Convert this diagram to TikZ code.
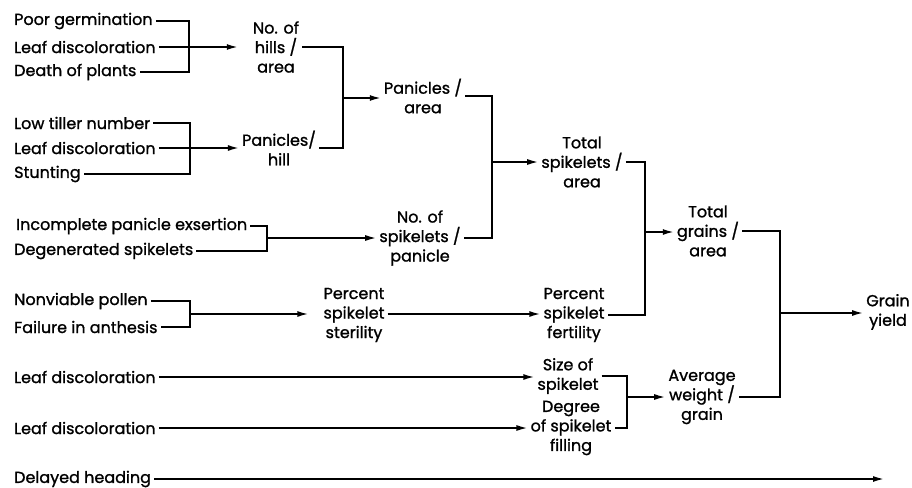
\documentclass[tikz,border=0pt]{standalone}
\usepackage{fontspec}
\setmainfont{Poppins}
\newfontfamily\labfont{Poppins}[FakeBold=1.2]
\usetikzlibrary{arrows.meta}
\begin{document}
\begin{tikzpicture}[x=1pt,y=-1pt,
  txt/.style={font=\labfont\fontsize{16}{19.5}\selectfont, inner xsep=3pt, inner ysep=1pt},
  cause/.style={txt, anchor=west},
  lab/.style={txt, align=center},
  conn/.style={line width=1.6pt},
  arr/.style={conn,-{Latex[length=11pt,width=6pt]}}]
\useasboundingbox[fill=white] (0,0) rectangle (912,487);
% causes
\node[cause] (pg) at (11,21) {Poor germination};
\node[cause] (ld1) at (11,47) {Leaf discoloration};
\node[cause] (dp) at (11,72) {Death of plants};
\node[cause] (lt) at (11,123) {Low tiller number};
\node[cause] (ld2) at (11,148) {Leaf discoloration};
\node[cause] (st) at (11,174) {Stunting};
\node[cause] (ip) at (13,226) {Incomplete panicle exsertion};
\node[cause] (ds) at (11,251) {Degenerated spikelets};
\node[cause] (np) at (11,301) {Nonviable pollen};
\node[cause] (fa) at (11,327) {Failure in anthesis};
\node[cause] (ld3) at (11,377) {Leaf discoloration};
\node[cause] (ld4) at (11,428) {Leaf discoloration};
\node[cause] (dh) at (11,479) {Delayed heading};
% components
\node[lab] (nh) at (276,47) {No. of\\hills /\\area};
\node[lab] (ph) at (279,148) {Panicles/\\hill};
\node[lab] (pa) at (423,96) {Panicles /\\area};
\node[lab] (ts) at (582,162) {Total\\spikelets /\\area};
\node[lab] (sp) at (420,238) {No. of\\spikelets /\\panicle};
\node[lab] (pst) at (354,315) {Percent\\spikelet\\sterility};
\node[lab] (pf) at (574,315) {Percent\\spikelet\\fertility};
\node[lab] (tg) at (708,231) {Total\\grains /\\area};
\node[lab] (gy) at (888,312) {Grain\\yield};
\node[lab] (ss) at (568,376) {Size of\\spikelet};
\node[lab] (dg) at (571,428) {Degree\\of spikelet\\filling};
\node[lab] (aw) at (702,397) {Average\\weight /\\grain};
% junction points
\coordinate (b1) at (189,47);
\coordinate (b2) at (190,148);
\coordinate (b3) at (343,98);
\coordinate (b4) at (492,162);
\coordinate (b5) at (267,238);
\coordinate (b6) at (190,314);
\coordinate (b7) at (645,232);
\coordinate (b8) at (780,313);
\coordinate (b9) at (627,397);
\coordinate (dhend) at (884,479);
% connectors
\draw[conn] (pg.east) -- (pg.east -| b1) -- (dp.east -| b1) -- (dp.east);
\draw[conn] (ld1.east) -- (b1);
\draw[arr, shorten >=12pt] (b1) -- (b1 -| nh.west);
\draw[conn] (lt.east) -- (lt.east -| b2) -- (st.east -| b2) -- (st.east);
\draw[conn] (ld2.east) -- (b2);
\draw[arr] (b2) -- (b2 -| ph.west);
\draw[conn] (nh.east) -- (nh.east -| b3) -- (ph.east -| b3) -- (ph.east);
\draw[arr] (b3) -- (b3 -| pa.west);
\draw[conn] (pa.east) -- (pa.east -| b4) -- (sp.east -| b4) -- (sp.east);
\draw[arr] (b4) -- (b4 -| ts.west);
\draw[conn] (ip.east) -- (ip.east -| b5) -- (ds.east -| b5) -- (ds.east);
\draw[arr] (b5) -- (b5 -| sp.west);
\draw[conn] (np.east) -- (np.east -| b6) -- (fa.east -| b6) -- (fa.east);
\draw[arr, shorten >=12pt] (b6) -- (b6 -| pst.west);
\draw[arr] (pst.east |- b6) -- (b6 -| pf.west);
\draw[conn] (ts.east) -- (ts.east -| b7) -- (pf.east -| b7) -- (pf.east);
\draw[arr] (b7) -- (b7 -| tg.west);
\draw[conn] (tg.east) -- (tg.east -| b8) -- (aw.east -| b8) -- (aw.east);
\draw[arr] (b8) -- (b8 -| gy.west);
\draw[arr] (ld3.east) -- (ld3.east -| ss.west);
\draw[arr] (ld4.east) -- (ld4.east -| dg.west);
\draw[conn] (ss.east) -- (ss.east -| b9) -- (dg.east -| b9) -- (dg.east);
\draw[arr] (b9) -- (b9 -| aw.west);
\draw[arr] (dh.east) -- (dhend);
\end{tikzpicture}
\end{document}
